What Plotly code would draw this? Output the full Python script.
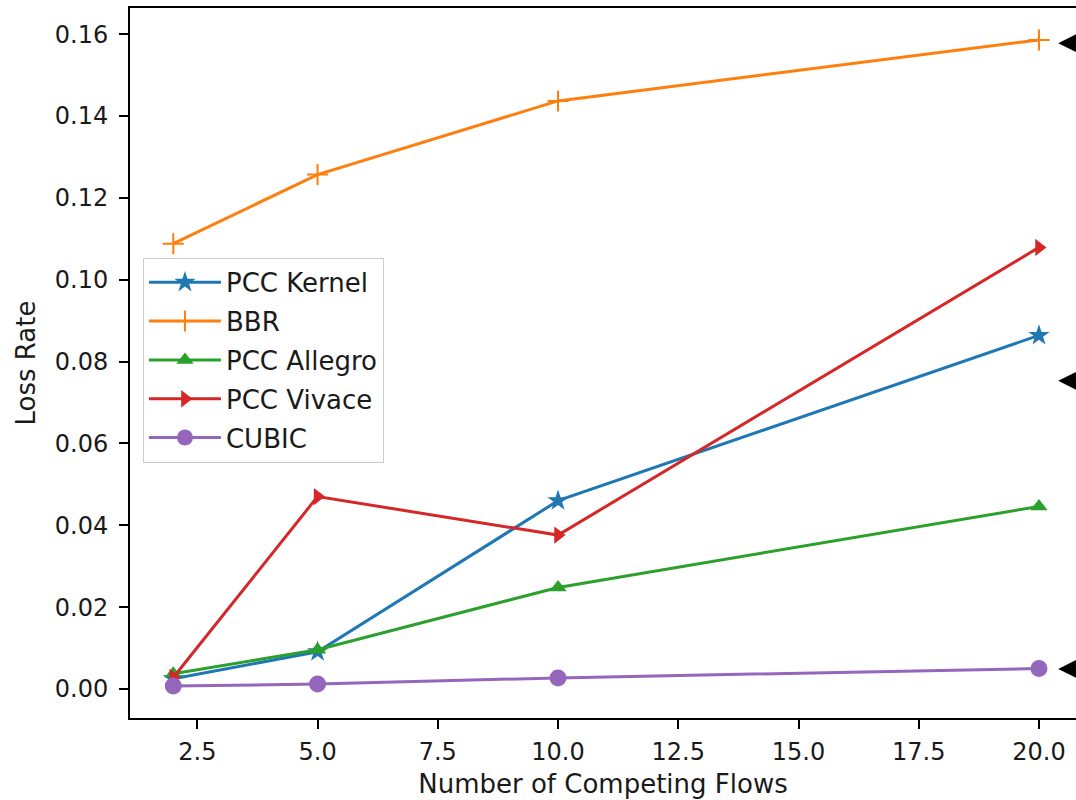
import plotly.graph_objects as go

flows = [2, 5, 10, 20]
pcc_kernel = [0.0025, 0.0091, 0.0460, 0.0864]
bbr = [0.1088, 0.1257, 0.1437, 0.1586]
pcc_allegro = [0.0037, 0.0096, 0.0248, 0.0446]
pcc_vivace = [0.0028, 0.0470, 0.0376, 0.1079]
cubic = [0.0007, 0.0012, 0.0027, 0.0050]

arrow_y = [0.1578, 0.0753, 0.0049]

series = [
    ("PCC Kernel", pcc_kernel, "#1f77b4", "star", 16),
    ("BBR", bbr, "#ff7f0e", "cross-thin", 15),
    ("PCC Allegro", pcc_allegro, "#2ca02c", "triangle-up", 15),
    ("PCC Vivace", pcc_vivace, "#d62728", "triangle-right", 15),
    ("CUBIC", cubic, "#9467bd", "circle", 17),
]

fig = go.Figure()
for i, (name, vals, color, sym, size) in enumerate(series):
    fig.add_trace(go.Scatter(
        x=flows, y=vals, name=name, mode="lines+markers",
        legendgroup=f"g{i}",
        line=dict(color=color, width=3),
        marker=dict(symbol=sym, size=size, color=color,
                    line=dict(color=color, width=2 if sym == "cross-thin" else 0)),
        cliponaxis=False,
    ))

for yv in arrow_y:
    fig.add_annotation(x=20.4, y=yv, xref="x", yref="y", text="",
                       showarrow=True, ax=70, ay=0, arrowhead=2,
                       arrowsize=1.8, arrowwidth=2, arrowcolor="black")

font = "DejaVu Sans, sans-serif"
txt = "#1a1a1a"
fig.update_layout(
    width=1076, height=800,
    margin=dict(l=130, r=0, t=8, b=82),
    paper_bgcolor="white", plot_bgcolor="white",
    font=dict(family=font, size=24, color=txt),
    showlegend=True,
    legend=dict(x=0.0137, y=0.648, xanchor="left", yanchor="top",
                bgcolor="rgba(255,255,255,0.8)", bordercolor="#cccccc", borderwidth=1,
                font=dict(family=font, size=26, color=txt),
                itemwidth=72, tracegroupgap=2),
    xaxis=dict(range=[1.1, 20.77], tick0=0, dtick=2.5, tickformat=".1f",
               showgrid=False, zeroline=False, showline=True, linecolor="black",
               linewidth=2, mirror=True, ticks="outside", ticklen=9, tickwidth=1.6,
               tickcolor="black", tickfont=dict(size=24, color=txt),
               ticklabelstandoff=2,
               title=dict(text="Number of Competing Flows", font=dict(size=26, color=txt), standoff=10)),
    yaxis=dict(range=[-0.0071, 0.1664], tick0=0, dtick=0.02, tickformat=".2f",
               showgrid=False, zeroline=False, showline=True, linecolor="black",
               linewidth=2, mirror=False, ticks="outside", ticklen=9, tickwidth=1.6,
               tickcolor="black", tickfont=dict(size=24, color=txt),
               ticklabelstandoff=6,
               title=dict(text="Loss Rate", font=dict(size=26, color=txt), standoff=12)),
)

fig.write_html("out.html")
